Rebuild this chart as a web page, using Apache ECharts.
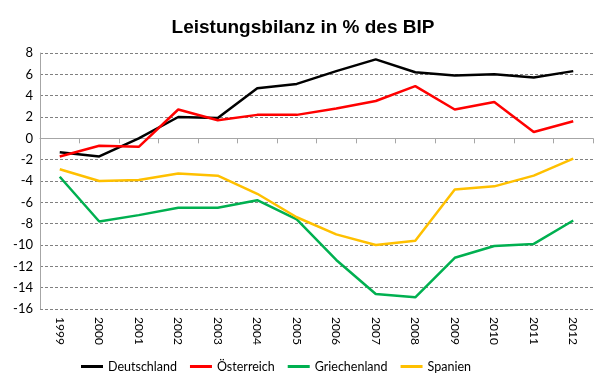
<!DOCTYPE html>
<html><head><meta charset="utf-8">
<script src="https://cdn.jsdelivr.net/npm/echarts@6/dist/echarts.min.js"></script>
<style>html,body{margin:0;padding:0;background:#fff}#c{width:606px;height:384px}</style>
</head><body><div id="c"></div>
<script>
const years = ['1999','2000','2001','2002','2003','2004','2005','2006','2007','2008','2009','2010','2011','2012'];
const deutschland = [-1.3, -1.7, 0.0, 2.0, 1.9, 4.7, 5.1, 6.3, 7.4, 6.2, 5.9, 6.0, 5.7, 6.3];
const oesterreich = [-1.7, -0.7, -0.8, 2.7, 1.7, 2.2, 2.2, 2.8, 3.5, 4.9, 2.7, 3.4, 0.6, 1.6];
const griechenland = [-3.6, -7.8, -7.2, -6.5, -6.5, -5.8, -7.6, -11.4, -14.6, -14.9, -11.2, -10.1, -9.9, -7.7];
const spanien = [-2.9, -4.0, -3.9, -3.3, -3.5, -5.2, -7.4, -9.0, -10.0, -9.6, -4.8, -4.5, -3.5, -1.9];
const yTicks = {min: -16, max: 8, interval: 2};

const font = "Lato, 'Liberation Sans', sans-serif";
const mk = (name, data, color) => ({
  name, type: 'line', data, symbol: 'none', xAxisIndex: 0,
  lineStyle: {color, width: 2.5}, itemStyle: {color}, animation: false
});
const chart = echarts.init(document.getElementById('c'));
chart.setOption({
  animation: false,
  title: {text: 'Leistungsbilanz in % des BIP', left: 'center', top: 13,
    textStyle: {fontFamily: "'Liberation Sans', sans-serif", fontSize: 19, fontWeight: 'bold', color: '#000'}},
  grid: {left: 40, right: 13, top: 53, bottom: 75},
  legend: {left: 76, top: 355, itemWidth: 22, itemHeight: 3, itemGap: 13, icon: 'rect',
    textStyle: {fontFamily: font, fontSize: 12.5, color: '#000'},
    data: ['Deutschland','Österreich','Griechenland','Spanien']},
  xAxis: [
    {type: 'category', data: years, position: 'bottom', boundaryGap: true,
      axisLine: {show: false, onZero: false}, axisTick: {show: false},
      axisLabel: {rotate: -90, margin: 8, fontFamily: font, fontSize: 12, color: '#000'}},
    {type: 'category', data: years, position: 'top', boundaryGap: true,
      axisLine: {show: true, onZero: true, lineStyle: {color: '#a6a6a6', width: 1}},
      axisTick: {show: true, inside: true, length: 5, lineStyle: {color: '#a6a6a6'}},
      axisLabel: {show: false}}
  ],
  yAxis: {type: 'value', min: yTicks.min, max: yTicks.max, interval: yTicks.interval,
    axisLine: {show: true, lineStyle: {color: '#a6a6a6'}}, axisTick: {show: false},
    axisLabel: {fontFamily: font, fontSize: 13, color: '#000', margin: 7},
    splitLine: {lineStyle: {color: '#808080', type: [3, 2], width: 1}}},
  series: [
    mk('Deutschland', deutschland, '#000000'),
    mk('Österreich', oesterreich, '#ff0000'),
    mk('Griechenland', griechenland, '#00b050'),
    mk('Spanien', spanien, '#ffc000')
  ]
});
</script></body></html>
